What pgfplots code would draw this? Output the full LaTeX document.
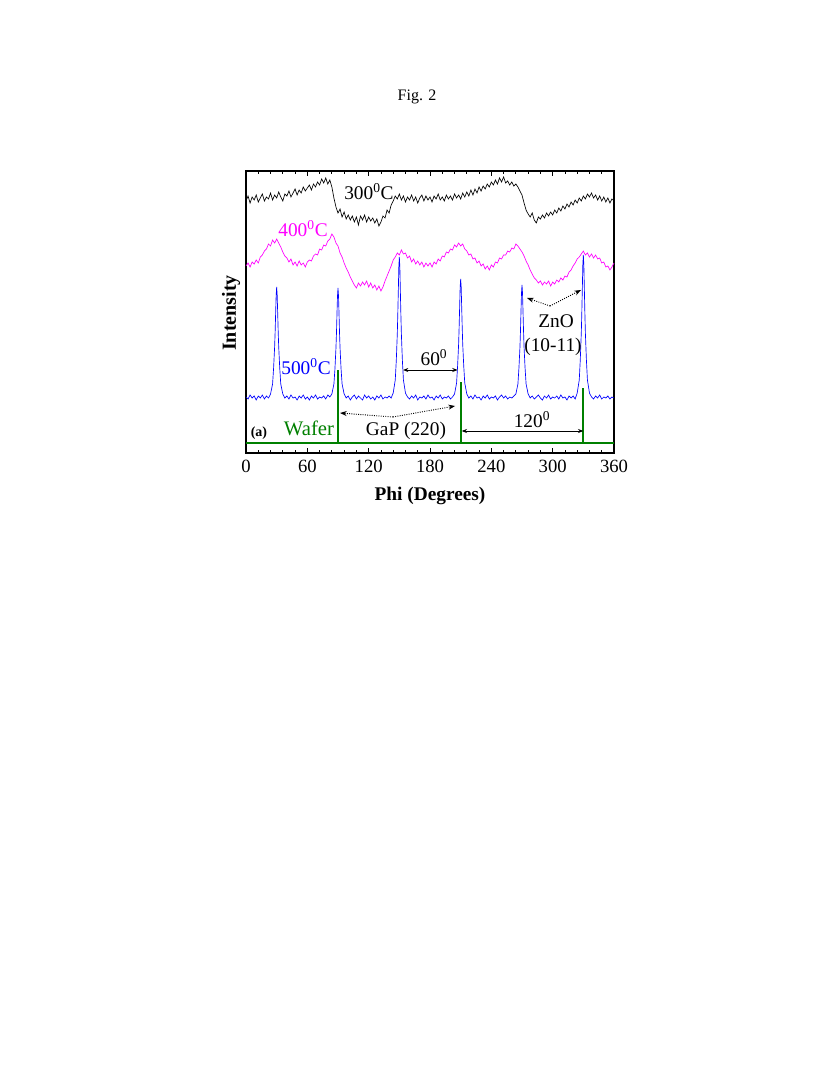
\documentclass[border=0pt]{standalone}
\usepackage{fontspec}
\setmainfont{Liberation Serif}
\usepackage{pgfplots}
\pgfplotsset{compat=1.18}
\usetikzlibrary{arrows.meta}

\definecolor{wafergreen}{RGB}{0,128,0}
\definecolor{brightmagenta}{RGB}{255,0,255}
\definecolor{pureblue}{RGB}{0,0,255}
\newcommand{\ann}{\fontsize{14.5}{17}\selectfont}

\begin{document}
\begin{tikzpicture}
% page of 830 x 1087 px, 1 px = 0.75 pt
\fill[white,use as bounding box] (0,0) rectangle (622.5pt,-815.25pt);
\node[font=\fontsize{12}{14}\selectfont] at (312.75pt,-72.75pt) {Fig. 2};

\begin{axis}[
  at={(184.5pt,-339.75pt)}, anchor=south west,
  scale only axis,
  width=276pt, height=211.5pt,
  xmin=0, xmax=360, ymin=0, ymax=282,
  xtick={0,60,...,360},
  minor x tick num=4,
  ytick=\empty,
  tick align=inside,
  xtick pos=both,
  xticklabel pos=bottom,
  major tick length=4pt,
  minor tick length=2.5pt,
  axis line style={line width=0.8pt},
  every tick/.style={black, line width=0.6pt},
  xticklabel style={font=\fontsize{14}{16}\selectfont, yshift=-2pt},
  /pgf/number format/assume math mode=true,
  clip=false,
]

% ---- 300 C ----
\addplot[black, line width=0.5pt] coordinates {
(0,252)(2,257)(4,250)(6,256)(8,253)(10,258)(12,251)(14,255)(16,259)(18,252)
(20,256)(22,254)(24,260)(26,253)(28,258)(30,255)(32,261)(34,256)(36,252)(38,259)
(40,257)(42,262)(44,256)(46,260)(48,264)(50,258)(52,263)(54,260)(56,266)(58,262)
(60,265)(62,268)(64,263)(66,269)(68,266)(70,271)(72,268)(74,274)(76,270)(78,275)
(80,269)(82,273)(84,266)(86,255)(88,246)(90,240)(92,244)(94,236)(96,241)(98,234)
(100,238)(102,233)(104,237)(106,231)(108,236)(110,228)(112,237)(114,233)(116,238)(118,231)
(120,236)(122,232)(124,235)(126,230)(128,234)(130,227)(132,231)(134,237)(136,235)(138,243)
(140,240)(142,248)(144,252)(146,257)(148,254)(150,259)(152,253)(154,257)(156,251)(158,256)
(160,253)(162,258)(164,252)(166,256)(168,250)(170,255)(172,258)(174,252)(176,257)(178,253)
(180,256)(182,251)(184,257)(186,254)(188,259)(190,253)(192,256)(194,252)(196,258)(198,254)
(200,257)(202,253)(204,259)(206,255)(208,258)(210,254)(212,260)(214,256)(216,261)(218,257)
(220,263)(222,258)(224,264)(226,260)(228,266)(230,262)(232,267)(234,264)(236,269)(238,266)
(240,271)(242,268)(244,273)(246,269)(248,275)(250,271)(252,276)(254,270)(256,272)(258,268)
(260,271)(262,267)(264,269)(266,266)(268,262)(270,258)(272,250)(274,243)(276,239)(278,236)
(280,240)(282,233)(284,230)(286,236)(288,234)(290,238)(292,235)(294,240)(296,237)(298,241)
(300,238)(302,243)(304,240)(306,245)(308,242)(310,247)(312,244)(314,249)(316,246)(318,251)
(320,248)(322,253)(324,250)(326,255)(328,252)(330,257)(332,254)(334,259)(336,256)(338,260)
(340,255)(342,258)(344,253)(346,257)(348,252)(350,256)(352,251)(354,255)(356,250)(358,254)
(360,252)
};

% ---- 400 C ----
\addplot[brightmagenta, line width=0.5pt] coordinates {
(0,187)(2,190)(4,186)(6,191)(8,189)(10,193)(12,190)(14,196)(16,198)(18,202)
(20,204)(22,209)(24,207)(26,213)(28,210)(30,214)(32,210)(34,206)(36,201)(38,197)
(40,195)(42,191)(44,194)(46,188)(48,191)(50,187)(52,192)(54,188)(56,190)(58,186)
(60,191)(62,193)(64,192)(66,197)(68,199)(70,198)(72,204)(74,203)(76,208)(78,207)
(80,212)(82,214)(84,219)(86,216)(88,210)(90,207)(92,200)(94,196)(96,190)(98,185)
(100,181)(102,176)(104,172)(106,168)(108,165)(110,170)(112,167)(114,171)(116,168)(118,172)
(120,166)(122,170)(124,165)(126,168)(128,163)(130,167)(132,162)(134,166)(136,172)(138,177)
(140,182)(142,187)(144,193)(146,196)(148,200)(150,198)(152,203)(154,199)(156,200)(158,195)
(160,197)(162,191)(164,194)(166,189)(168,192)(170,188)(172,191)(174,186)(176,190)(178,187)
(180,190)(182,186)(184,191)(186,189)(188,194)(190,192)(192,197)(194,196)(196,201)(198,200)
(200,204)(202,203)(204,208)(206,206)(208,210)(210,207)(212,209)(214,204)(216,202)(218,198)
(220,199)(222,194)(224,195)(226,190)(228,192)(230,187)(232,189)(234,184)(236,187)(238,183)
(240,188)(242,186)(244,191)(246,190)(248,195)(250,194)(252,198)(254,198)(256,202)(258,201)
(260,205)(262,204)(264,209)(266,207)(268,204)(270,201)(272,197)(274,192)(276,188)(278,183)
(280,179)(282,175)(284,173)(286,170)(288,172)(290,168)(292,171)(294,169)(296,172)(298,167)
(300,171)(302,169)(304,173)(306,171)(308,175)(310,173)(312,177)(314,176)(316,181)(318,183)
(320,187)(322,190)(324,194)(326,196)(328,199)(330,202)(332,198)(334,200)(336,196)(338,199)
(340,195)(342,198)(344,194)(346,195)(348,190)(350,191)(352,186)(354,187)(356,183)(358,186)
(360,190)
};

% ---- 500 C ----
\addplot[pureblue, line width=0.5pt] coordinates {
(0,56)(2,54)(4,58)(6,55)(8,57)(10,53)(12,57)(14,55)(16,58)(18,54)(20,57)(22,55)(24,59)
(26,69)(27,85)(28,106)(28.5,121)(29,140)(29.5,158)(30,166)(30.5,158)(31,140)(31.5,121)(32,106)(33,85)(34,69)(36,59)
(38,55)(40,57)(42,54)(44,58)(46,55)(48,56)(50,53)(52,57)(54,55)(56,58)(58,54)(60,56)(62,53)(64,57)
(66,55)(68,58)(70,54)(72,56)(74,55)(76,57)(78,54)(80,58)(82,56)(84,59)
(86,69)(87,84)(88,105)(88.5,120)(89,139)(89.5,157)(90,165)(90.5,157)(91,139)(91.5,120)(92,105)(93,84)(94,69)(96,59)
(98,55)(100,57)(102,53)(104,56)(106,58)(108,54)(110,57)(112,55)(114,53)(116,58)(118,55)(120,57)
(122,54)(124,56)(126,53)(128,57)(130,55)(132,58)(134,54)(136,56)(138,55)(140,57)(142,55)(144,60)
(146,73)(147,92)(148,119)(148.5,139)(149,162)(149.5,186)(150,196)(150.5,186)(151,162)(151.5,139)(152,119)(153,92)(154,73)(156,60)
(158,56)(160,54)(162,57)(164,55)(166,58)(168,53)(170,56)(172,55)(174,57)(176,54)(178,58)(180,55)
(182,56)(184,53)(186,57)(188,55)(190,58)(192,54)(194,56)(196,55)(198,57)(200,54)(202,56)(204,59)
(206,70)(207,87)(208,109)(208.5,126)(209,146)(209.5,166)(210,174)(210.5,166)(211,146)(211.5,126)(212,109)(213,87)(214,70)(216,59)
(218,55)(220,57)(222,54)(224,58)(226,55)(228,56)(230,53)(232,57)(234,55)(236,58)(238,54)(240,56)
(242,55)(244,57)(246,53)(248,56)(250,58)(252,55)(254,57)(256,54)(258,56)(260,55)(262,57)(264,59)
(266,69)(267,85)(268,106)(268.5,122)(269,141)(269.5,160)(270,168)(270.5,160)(271,141)(271.5,122)(272,106)(273,85)(274,69)(276,59)
(278,55)(280,57)(282,54)(284,56)(286,58)(288,55)(290,53)(292,57)(294,55)(296,58)(298,54)(300,56)
(302,55)(304,57)(306,54)(308,58)(310,55)(312,56)(314,53)(316,57)(318,55)(320,57)(322,54)(324,60)
(326,73)(327,93)(328,120)(328.5,140)(329,164)(329.5,188)(330,198)(330.5,188)(331,164)(331.5,140)(332,120)(333,93)(334,73)(336,60)
(338,56)(340,54)(342,57)(344,55)(346,58)(348,54)(350,56)(352,55)(354,57)(356,54)(358,56)(360,55)
};

% ---- Wafer ----
\addplot[wafergreen, line width=1.3pt] coordinates {
(0,10)(90,10)(90,83)(90,10)(210,10)(210,71)(210,10)(330,10)(330,65)(330,10)(360,10)
};

% labels
\node[font=\fontsize{14.5}{17}\selectfont\bfseries] at (axis cs:180,-43) {Phi (Degrees)};
\node[font=\fontsize{15}{17}\selectfont\bfseries, rotate=90] at (axis cs:-14.7,140) {Intensity};

% annotations
\node[font=\ann, black] at (axis cs:120.3,261.5) {300\textsuperscript{0}C};
\node[font=\ann, brightmagenta] at (axis cs:55.8,224) {400\textsuperscript{0}C};
\node[font=\ann, pureblue] at (axis cs:58.7,86) {500\textsuperscript{0}C};
\node[font=\fontsize{15.5}{18}\selectfont, wafergreen] at (axis cs:61.6,25) {Wafer};
\node[font=\fontsize{10.5}{12}\selectfont\bfseries] at (axis cs:12.7,20) {(a)};

\node[font=\ann] at (axis cs:183.9,95) {60\textsuperscript{0}};
\draw[{Stealth[length=4pt]}-{Stealth[length=4pt]}, line width=0.5pt] (axis cs:153.6,83) -- (axis cs:207,83);

\node[font=\ann] at (axis cs:279.8,33) {120\textsuperscript{0}};
\draw[{Stealth[length=4pt]}-{Stealth[length=4pt]}, line width=0.5pt] (axis cs:211,22) -- (axis cs:330,22);

\node[font=\ann] at (axis cs:303.3,132) {ZnO};
\node[font=\ann] at (axis cs:300.3,106) {(10-11)};
\draw[densely dotted, line width=0.7pt, -{Stealth[length=5pt]}] (axis cs:297.4,147) -- (axis cs:274.9,155);
\draw[densely dotted, line width=0.7pt, -{Stealth[length=5pt]}] (axis cs:297.4,147) -- (axis cs:327.7,163);

\node[font=\ann] at (axis cs:156.5,22) {GaP (220)};
\draw[densely dotted, line width=0.7pt, -{Stealth[length=5pt]}] (axis cs:143.8,36) -- (axis cs:92,40);
\draw[densely dotted, line width=0.7pt, -{Stealth[length=5pt]}] (axis cs:143.8,36) -- (axis cs:204.5,47);

\end{axis}
\end{tikzpicture}
\end{document}
